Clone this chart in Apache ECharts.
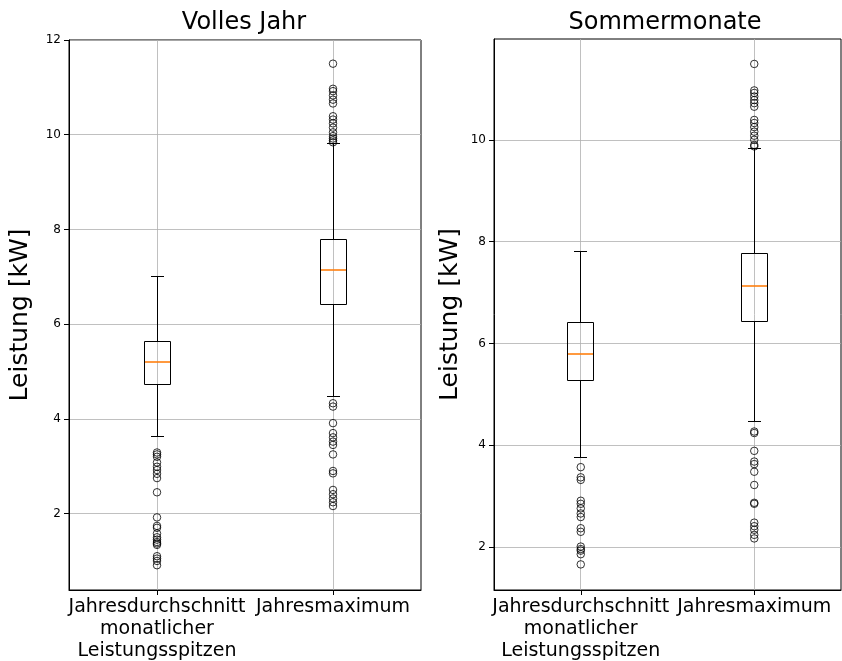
<!DOCTYPE html>
<html>
<head>
<meta charset="utf-8">
<script src="https://cdn.jsdelivr.net/npm/echarts@6/dist/echarts.min.js"></script>
<style>html,body{margin:0;padding:0;background:#fff;}#c{width:842px;height:661px;}</style>
</head>
<body>
<div id="c"></div>
<script>
// ---- data ----
const categories = ['Jahresdurchschnitt\nmonatlicher\nLeistungsspitzen', 'Jahresmaximum'];
const titles = ['Volles Jahr', 'Sommermonate'];
const yName = 'Leistung [kW]';
const ticksFull = [2, 4, 6, 8, 10, 12];
const ticksSummer = [2, 4, 6, 8, 10];

// box stats: [lower whisker, Q1, median, Q3, upper whisker]
const fullAvgBox = [3.63, 4.72, 5.21, 5.63, 7.00];
const fullMaxBox = [4.47, 6.41, 7.14, 7.78, 9.81];
const summerAvgBox = [3.76, 5.28, 5.80, 6.42, 7.80];
const summerMaxBox = [4.46, 6.44, 7.13, 7.77, 9.82];

// outliers
const fullAvgOutliers = [3.29, 3.25, 3.20, 3.08, 2.99, 2.92, 2.84, 2.75, 2.45, 1.92, 1.74, 1.70, 1.58, 1.50, 1.45, 1.40, 1.37, 1.34, 1.10, 1.05, 1.00, 0.91];
const fullMaxOutliers = [11.50, 10.97, 10.92, 10.83, 10.74, 10.66, 10.39, 10.32, 10.24, 10.15, 10.05, 9.97, 9.92, 9.88, 9.84,
  4.33, 4.26, 3.91, 3.70, 3.61, 3.52, 3.45, 3.25, 2.90, 2.85, 2.50, 2.41, 2.32, 2.24, 2.16];
const summerAvgOutliers = [3.57, 3.37, 3.32, 2.91, 2.85, 2.76, 2.66, 2.59, 2.37, 2.30, 2.01, 1.96, 1.93, 1.86, 1.66];
const summerMaxOutliers = [11.49, 10.97, 10.92, 10.85, 10.78, 10.72, 10.65, 10.39, 10.33, 10.25, 10.16, 10.08, 10.00, 9.90, 9.87,
  4.27, 4.24, 3.89, 3.68, 3.63, 3.48, 3.22, 2.87, 2.85, 2.48, 2.41, 2.34, 2.24, 2.17];

// ---- chart ----
const FONT = 'DejaVu Sans';
const chart = echarts.init(document.getElementById('c'), null, {renderer: 'canvas'});

function px(v) { return Math.round(v - 0.5) + 0.5; }

function renderBox(params, api) {
  const ci = api.value(0);
  const lo = api.coord([ci, api.value(1)]);
  const q1 = api.coord([ci, api.value(2)]);
  const md = api.coord([ci, api.value(3)]);
  const q3 = api.coord([ci, api.value(4)]);
  const hi = api.coord([ci, api.value(5)]);
  const band = api.size([1, 0])[0];
  const bw = Math.round(band * 0.15), cw = Math.round(bw / 2);
  const x = px(lo[0]);
  const cs = params.coordSys;
  const blk = {stroke: '#000', lineWidth: 1, fill: null};
  const yl = px(lo[1]), y1 = px(q1[1]), y3 = px(q3[1]), yh = px(hi[1]);
  const ym = Math.round(md[1]);
  return {
    type: 'group',
    children: [
      {type: 'line', shape: {x1: x, y1: cs.y, x2: x, y2: cs.y + cs.height}, style: {stroke: '#b0b0b0', lineWidth: 0.8}},
      {type: 'line', shape: {x1: x, y1: yl, x2: x, y2: y1}, style: blk},
      {type: 'line', shape: {x1: x, y1: y3, x2: x, y2: yh}, style: blk},
      {type: 'line', shape: {x1: x - cw / 2, y1: yl, x2: x + cw / 2, y2: yl}, style: blk},
      {type: 'line', shape: {x1: x - cw / 2, y1: yh, x2: x + cw / 2, y2: yh}, style: blk},
      {type: 'rect', shape: {x: x - bw / 2, y: y3, width: bw, height: y1 - y3}, style: blk},
      {type: 'line', shape: {x1: x - bw / 2 + 0.5, y1: ym, x2: x + bw / 2 - 0.5, y2: ym}, style: {stroke: '#ff7f0e', lineWidth: 1.6}}
    ]
  };
}

function boxData(a, b) {
  return [[0].concat(a), [1].concat(b)];
}
function outlierData(a, b) {
  return a.map(v => [0, v]).concat(b.map(v => [1, v]));
}

function yAxisCfg(gi, min, max, ticks, gap) {
  return {
    type: 'value', gridIndex: gi, min: min, max: max,
    name: yName, nameLocation: 'middle', nameGap: gap, nameRotate: 90,
    nameTextStyle: {fontFamily: FONT, fontSize: 25, color: '#000'},
    axisLine: {show: true, lineStyle: {color: '#000', width: 1}},
    axisTick: {show: true, inside: false, length: 5, customValues: ticks, lineStyle: {color: '#000', width: 1}},
    axisLabel: {customValues: ticks, fontFamily: FONT, fontSize: 12, color: '#000', margin: 8},
    splitLine: {show: true, lineStyle: {color: '#b0b0b0', width: 0.8}}
  };
}
function xAxisCfg(gi) {
  return {
    type: 'category', gridIndex: gi, data: categories, boundaryGap: true,
    axisLine: {show: true, lineStyle: {color: '#000', width: 1}},
    axisTick: {show: true, alignWithLabel: true, length: 5, lineStyle: {color: '#000'}},
    axisLabel: {fontFamily: FONT, fontSize: 19, color: '#000', lineHeight: 22, margin: 6, interval: 0},
    splitLine: {show: false}
  };
}

const option = {
  backgroundColor: '#fff',
  animation: false,
  title: [
    {text: titles[0], left: 239, top: 6, textAlign: 'center', textStyle: {fontFamily: FONT, fontSize: 24, fontWeight: 'normal', color: '#000'}},
    {text: titles[1], left: 660, top: 6, textAlign: 'center', textStyle: {fontFamily: FONT, fontSize: 24, fontWeight: 'normal', color: '#000'}}
  ],
  grid: [
    {left: 69, top: 40, width: 352, height: 550, outerBoundsMode: 'none', containLabel: false, show: true, borderColor: '#000', borderWidth: 1, backgroundColor: 'transparent'},
    {left: 494, top: 39, width: 347, height: 551, outerBoundsMode: 'none', containLabel: false, show: true, borderColor: '#000', borderWidth: 1, backgroundColor: 'transparent'}
  ],
  xAxis: [xAxisCfg(0), xAxisCfg(1)],
  yAxis: [yAxisCfg(0, 0.387, 12, ticksFull, 36), yAxisCfg(1, 1.157, 11.98, ticksSummer, 31)],
  series: [
    {type: 'custom', xAxisIndex: 0, yAxisIndex: 0, renderItem: renderBox, encode: {x: 0, y: [1, 2, 3, 4, 5]}, data: boxData(fullAvgBox, fullMaxBox)},
    {type: 'custom', xAxisIndex: 1, yAxisIndex: 1, renderItem: renderBox, encode: {x: 0, y: [1, 2, 3, 4, 5]}, data: boxData(summerAvgBox, summerMaxBox)},
    {type: 'scatter', xAxisIndex: 0, yAxisIndex: 0, symbol: 'circle', symbolSize: 7.5,
      itemStyle: {color: 'rgba(0,0,0,0)', borderColor: '#000', borderWidth: 1}, data: outlierData(fullAvgOutliers, fullMaxOutliers)},
    {type: 'scatter', xAxisIndex: 1, yAxisIndex: 1, symbol: 'circle', symbolSize: 7.5,
      itemStyle: {color: 'rgba(0,0,0,0)', borderColor: '#000', borderWidth: 1}, data: outlierData(summerAvgOutliers, summerMaxOutliers)}
  ]
};
chart.setOption(option);
</script>
</body>
</html>
